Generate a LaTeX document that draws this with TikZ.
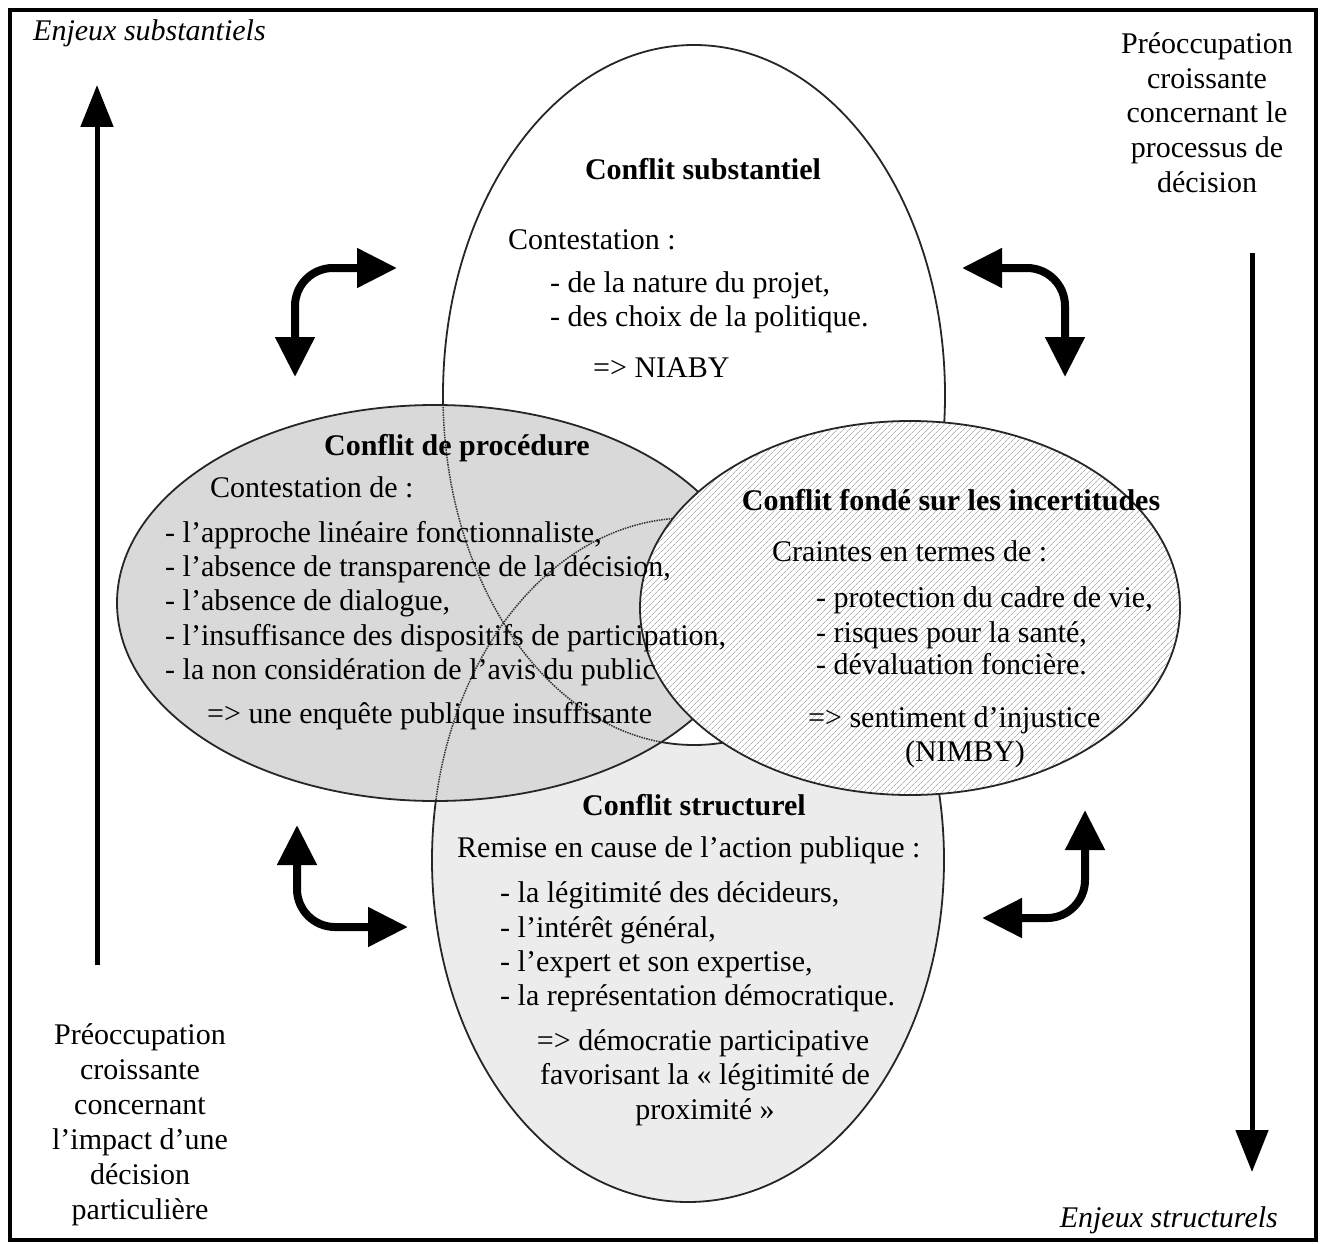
\documentclass[tikz,border=0pt]{standalone}
\usepackage{fontspec}
\setmainfont{Liberation Serif}
\usetikzlibrary{arrows.meta,patterns.meta}
\definecolor{procgray}{HTML}{D9D9D9}
\definecolor{structgray}{HTML}{ECECEC}
\begin{document}
\begin{tikzpicture}[x=1pt,y=-1pt,
  txt/.style={anchor=base west, inner sep=0pt, font=\fontsize{30}{34}\selectfont},
  ctxt/.style={anchor=base, inner sep=0pt, font=\fontsize{30}{34}\selectfont},
  btxt/.style={anchor=base, inner sep=0pt, font=\fontsize{30}{34}\selectfont\bfseries},
  itxt/.style={anchor=base west, inner sep=0pt, font=\fontsize{30}{34}\selectfont\itshape},
  outline/.style={draw=black!85, line width=1.8pt},
  hidden/.style={draw=black!80, line width=1.5pt, densely dotted},
  bigtip/.style={line width=5pt, -{Triangle[length=42pt,width=32pt]}},
  dbl/.style={line width=8pt, rounded corners=38pt,
    {Triangle[length=40pt,width=38pt]}-{Triangle[length=40pt,width=38pt]}}
]
\useasboundingbox (0,0) rectangle (1322,1244);
\fill[white] (0,0) rectangle (1322,1244);
\draw[line width=4pt] (10,10) rectangle (1316,1240);

% ellipses
\fill[structgray] (688,860) ellipse [x radius=256pt, y radius=342pt];
\draw[outline] (688,860) ellipse [x radius=256pt, y radius=342pt];
\fill[white] (694,395) ellipse [x radius=251pt, y radius=350pt];
\draw[outline] (694,395) ellipse [x radius=251pt, y radius=350pt];
\fill[procgray] (435,603) ellipse [x radius=318pt, y radius=198pt];
\begin{scope}
  \clip (435,603) ellipse [x radius=318pt, y radius=198pt];
  \draw[hidden] (694,395) ellipse [x radius=251pt, y radius=350pt];
  \draw[hidden] (688,860) ellipse [x radius=256pt, y radius=342pt];
\end{scope}
\draw[outline] (435,603) ellipse [x radius=318pt, y radius=198pt];
\path[preaction={fill=white}, pattern={Lines[angle=45,distance=4pt,line width=0.8pt]}, pattern color=black!30]
  (910,608) ellipse [x radius=270pt, y radius=187pt];
\draw[outline] (910,608) ellipse [x radius=270pt, y radius=187pt];

% vertical arrows
\coordinate (lbot) at (97,965);
\coordinate (ltop) at (97,85);
\draw[bigtip] (lbot) -- (ltop);
\coordinate (rtop) at (1252,253);
\coordinate (rbot) at (1252,1172);
\draw[bigtip] (rtop) -- (rbot);

% curved double arrows
\coordinate (a1s) at (295,377); \coordinate (a1e) at (397,268);
\draw[dbl] (a1s) |- (a1e);
\coordinate (a2s) at (962,268); \coordinate (a2e) at (1065,377);
\draw[dbl] (a2s) -| (a2e);
\coordinate (a3s) at (297,825); \coordinate (a3e) at (408,927);
\draw[dbl] (a3s) |- (a3e);
\coordinate (a4s) at (1085,810); \coordinate (a4e) at (982,918);
\draw[dbl] (a4s) |- (a4e);

% corner labels
\node[itxt] (es) at (33,41) {Enjeux substantiels};
\node[itxt, anchor=base east] (est) at (1278,1227) {Enjeux structurels};
\foreach \t [count=\i] in {Préoccupation, croissante, concernant le, processus de, décision}
  \node[ctxt] (tr\i) at (1207,{54+34.5*(\i-1)}) {\t};
\foreach \t [count=\i] in {Préoccupation, croissante, concernant, l’impact d’une, décision, particulière}
  \node[ctxt] (bl\i) at (140,{1044+35*(\i-1)}) {\t};

% top ellipse text
\node[btxt] (subT) at (703,179) {Conflit substantiel};
\node[txt] (sub1) at (508,249) {Contestation :};
\node[txt] (sub2) at (550,292) {- de la nature du projet,};
\node[txt] (sub3) at (550,326) {- des choix de la politique.};
\node[txt] (sub4) at (593,377) {=> NIABY};

% procedure ellipse text
\node[btxt] (proT) at (457,455) {Conflit de procédure};
\node[txt] (pro0) at (210,497) {Contestation de :};
\node[txt] (pro1) at (165,542) {- l’approche linéaire fonctionnaliste,};
\node[txt] (pro2) at (165,576) {- l’absence de transparence de la décision,};
\node[txt] (pro3) at (165,610) {- l’absence de dialogue,};
\node[txt] (pro4) at (165,645) {- l’insuffisance des dispositifs de participation,};
\node[txt] (pro5) at (165,679) {- la non considération de l’avis du public};
\node[txt] (pro6) at (207,723) {=> une enquête publique insuffisante};

% uncertainty ellipse text
\node[btxt] (incT) at (951,510) {Conflit fondé sur les incertitudes};
\node[txt] (inc0) at (772,561) {Craintes en termes de :};
\node[txt] (inc1) at (816,607) {- protection du cadre de vie,};
\node[txt] (inc2) at (816,642) {- risques pour la santé,};
\node[txt] (inc3) at (816,674) {- dévaluation foncière.};
\node[txt] (inc4) at (808,727) {=> sentiment d’injustice};
\node[ctxt] (inc5) at (965,761) {(NIMBY)};

% structural ellipse text
\node[btxt] (strT) at (694,815) {Conflit structurel};
\node[txt] (str0) at (457,857) {Remise en cause de l’action publique :};
\node[txt] (str1) at (500,902) {- la légitimité des décideurs,};
\node[txt] (str2) at (500,937) {- l’intérêt général,};
\node[txt] (str3) at (500,971) {- l’expert et son expertise,};
\node[txt] (str4) at (500,1005) {- la représentation démocratique.};
\node[ctxt] (str5) at (703,1050) {=> démocratie participative};
\node[ctxt] (str6) at (705,1084) {favorisant la « légitimité de};
\node[ctxt] (str7) at (705,1119) {proximité »};
\end{tikzpicture}
\end{document}
